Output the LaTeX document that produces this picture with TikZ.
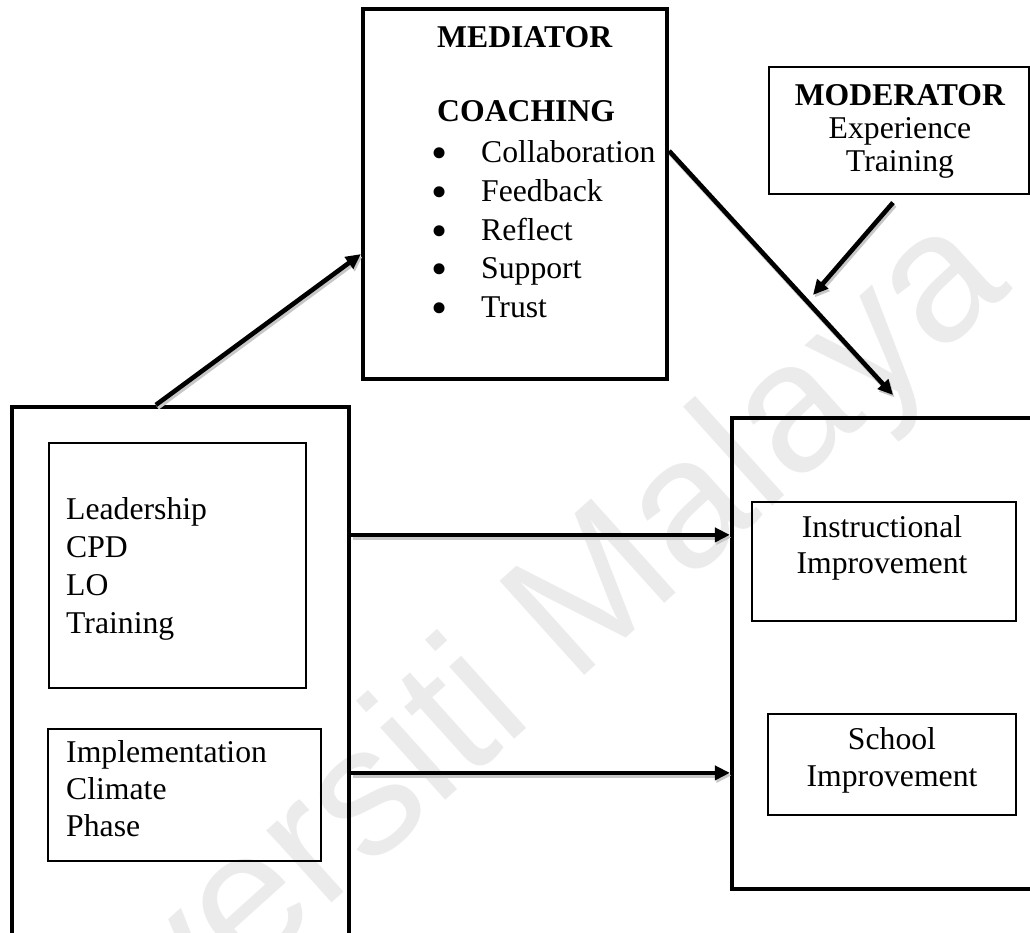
\documentclass[tikz,border=0pt]{standalone}
\usepackage{fontspec}
\setmainfont{Liberation Serif}
\newfontfamily\wmfont{Liberation Sans}
\usetikzlibrary{arrows.meta}

% bullet marker for the coaching list: centred on the node's west edge
\newcommand\coachbul{\makebox[0pt][c]{\fontsize{46}{0}\selectfont\raisebox{-6pt}{•}}\hspace{42pt}}

\begin{document}
\begin{tikzpicture}[x=1pt,y=-1pt,
  heavybox/.style={draw, line width=4.2pt, inner sep=0pt},
  thinbox/.style={draw, line width=1.2pt, inner sep=0pt},
  txt/.style={inner sep=0pt, font=\fontsize{31.7}{38}\selectfont},
  arrshadow/.style={draw=black!22, line width=5pt, transform canvas={shift={(1.5pt,-2.5pt)}}},
  arr/.style={line width=4.6pt, -{Triangle[length=15pt,width=14pt]}, preaction={arrshadow}},
]
\useasboundingbox (0,0) rectangle (1030,933);
\clip (0,0) rectangle (1030,933);

% faint repository watermark behind everything
\node[rotate=42, text=black!8, inner sep=0pt, font=\fontsize{184}{184}\selectfont\wmfont] (wm) at (462,722) {Universiti Malaya};

% outer frames
\node[heavybox, minimum width=337pt, minimum height=550pt] (src) at (180.5,682) {};
\node[heavybox, minimum width=304pt, minimum height=370pt] (med) at (515,194) {};
\node[heavybox, minimum width=313pt, minimum height=471pt] (dst) at (888.5,653.5) {};
\node[thinbox, minimum width=260pt, minimum height=127pt] (mod) at (899,130.5) {};

% inner frames
\node[thinbox, minimum width=257pt, minimum height=245pt] (ldr) at (177.5,565.5) {};
\node[thinbox, minimum width=273pt, minimum height=132pt] (imp) at (184.5,795) {};
\node[thinbox, minimum width=264pt, minimum height=119pt] (ins) at (884,561.5) {};
\node[thinbox, minimum width=248pt, minimum height=101pt] (sch) at (892,764.5) {};

% texts
\node[txt, anchor=north west, align=left] (ldrtxt) at (66,497.4) {Leadership\\CPD\\LO\\Training};
\node[txt, anchor=north west, align=left, font=\fontsize{31.7}{37}\selectfont] (imptxt) at (66,740.4) {Implementation\\Climate\\Phase};
\node[txt, anchor=north west, font=\fontsize{31.7}{38}\selectfont\bfseries] (medhead) at (437,26.6) {MEDIATOR};
\node[txt, anchor=north west, font=\fontsize{31.7}{38}\selectfont\bfseries] (coach) at (437,100.6) {COACHING};
\node[txt, anchor=north west, align=left, font=\fontsize{31.7}{38.75}\selectfont] (coachlist) at (439,140.4)
  {\coachbul Collaboration\\\coachbul Feedback\\\coachbul Reflect\\\coachbul Support\\\coachbul Trust};
\node[txt, anchor=north, align=center, font=\fontsize{31.7}{33}\selectfont] (modtxt) at (900,84.6)
  {\textbf{MODERATOR}\\Experience\\Training};
\node[txt, anchor=north, align=center, font=\fontsize{31.7}{36}\selectfont] (instxt) at (882,515.4) {Instructional\\Improvement};
\node[txt, anchor=north, align=center, font=\fontsize{31.7}{37}\selectfont] (schtxt) at (892,727.4) {School\\Improvement};

% connectors
\coordinate (medout) at (893,395);
\coordinate (modout) at (813,295);
\draw[arr] ([xshift=146pt]src.north west) -- ([yshift=127pt]med.south west);
\draw[arr] ([yshift=-144pt]med.north east) -- (medout);
\draw[arr] ([xshift=-6pt,yshift=-8pt]mod.south) -- (modout);
\draw[arr] ([yshift=-130pt]src.north east) -- ([yshift=-119pt]dst.north west);
\draw[arr] ([yshift=-368pt]src.north east) -- ([yshift=-357pt]dst.north west);
\end{tikzpicture}
\end{document}
